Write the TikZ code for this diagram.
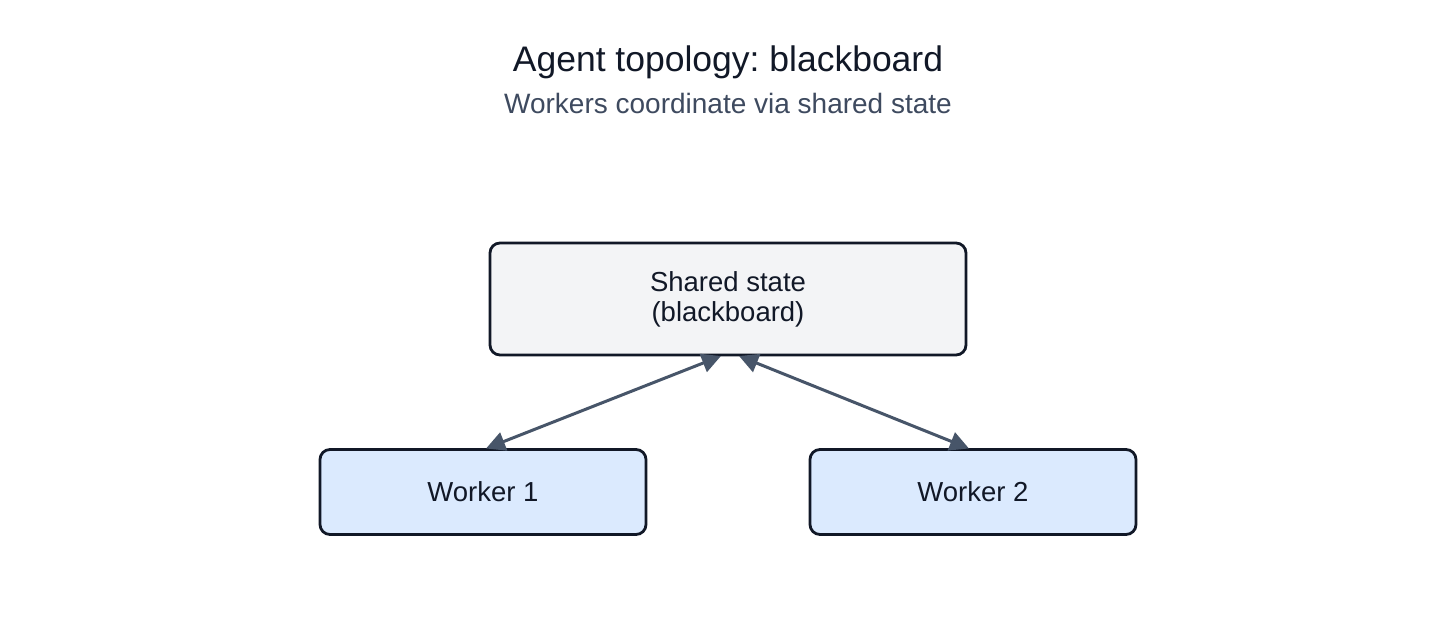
\documentclass[tikz,border=0pt]{standalone}
\usepackage{fontspec}
\setmainfont{Liberation Sans}
\usetikzlibrary{arrows.meta,positioning}
\frenchspacing
\definecolor{inkdark}{HTML}{111827}
\definecolor{subgray}{HTML}{3E4A5F}
\definecolor{edgegray}{HTML}{475569}
\definecolor{statefill}{HTML}{F3F4F6}
\definecolor{workfill}{HTML}{DBEAFE}
\tikzset{
  box/.style={draw=inkdark, line width=2.8pt, rounded corners=10pt, align=center, text=inkdark, font=\fontsize{27.5}{30}\selectfont},
  statebox/.style={box, fill=statefill, minimum width=476pt, minimum height=112pt},
  workbox/.style={box, fill=workfill, minimum width=326pt, minimum height=85pt},
  biarrow/.style={{Triangle[length=19pt,width=19pt]}-{Triangle[length=19pt,width=19pt]}, line width=3pt, draw=edgegray, fill=edgegray, shorten <=-1pt, shorten >=-1pt},
  titletext/.style={text=inkdark, font=\fontsize{35.5}{40}\selectfont},
  subtext/.style={text=subgray, font=\fontsize{28}{32}\selectfont}
}
\begin{document}
\begin{tikzpicture}[x=1pt, y=-1pt]
\useasboundingbox[fill=white] (0,0) rectangle (1456,642);
\node[titletext] (title) at (728,62) {Agent topology: blackboard};
\node[subtext] (subtitle) at (728,103) {Workers coordinate via shared state};
\node[statebox] (shared) at (728,299) {Shared state\\(blackboard)};
\node[workbox] (w1) at (483,492) {Worker 1};
\node[workbox] (w2) at (973,492) {Worker 2};
\draw[biarrow] ([xshift=-8pt]shared.south) -- ([xshift=4pt]w1.north);
\draw[biarrow] ([xshift=12pt]shared.south) -- ([xshift=-5pt]w2.north);
\end{tikzpicture}
\end{document}
